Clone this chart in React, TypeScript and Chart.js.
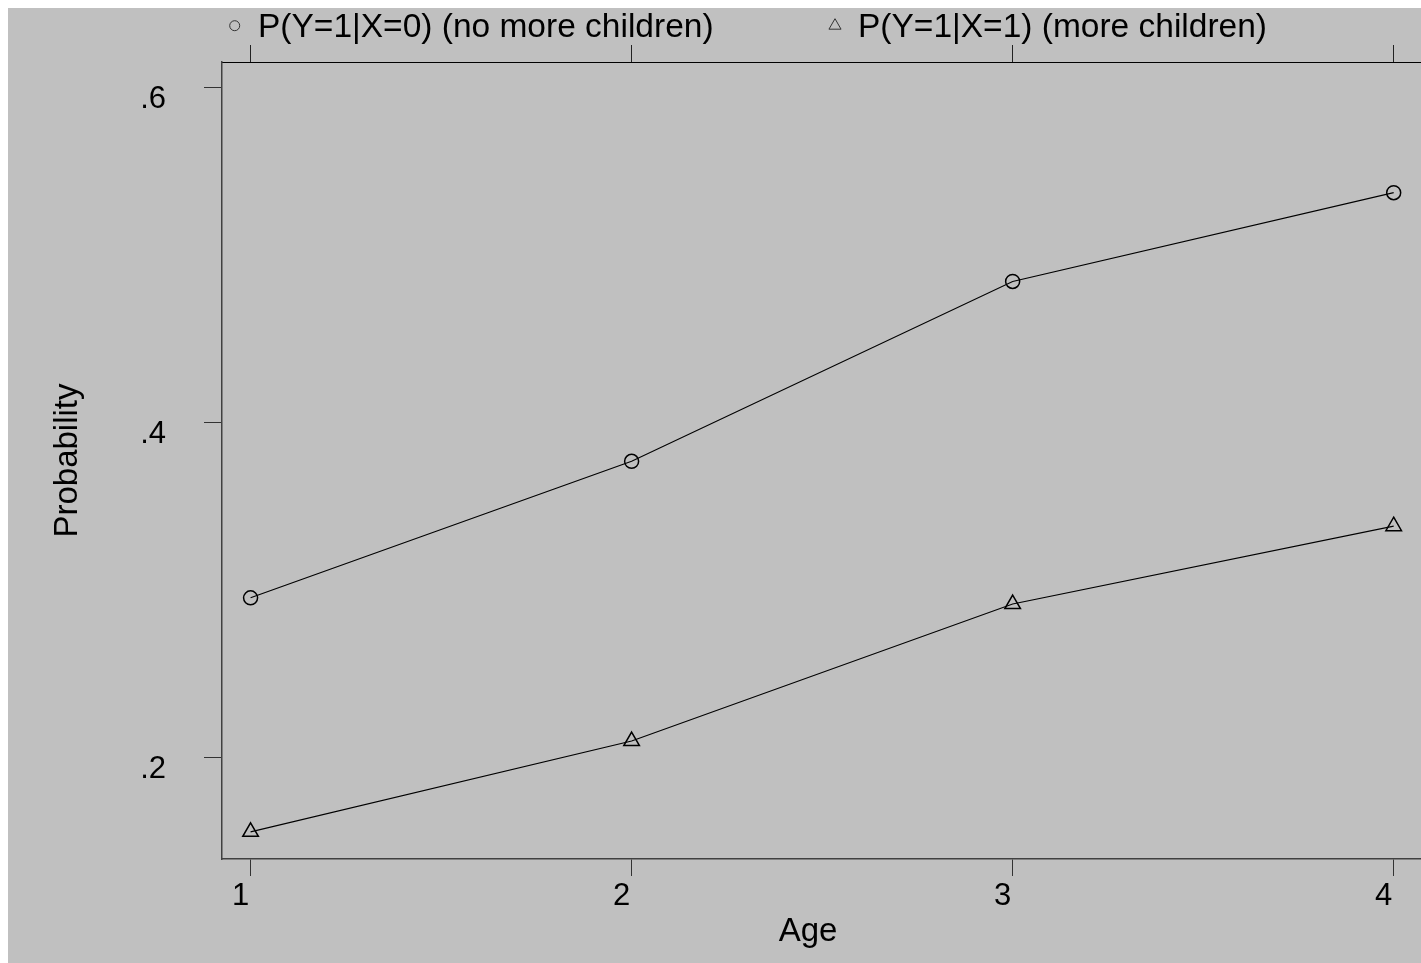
import { useEffect, useRef } from 'react';
import { Chart, registerables } from 'chart.js';

Chart.register(...registerables);

// ---- data ----
const ages = [1, 2, 3, 4];
const probNoMoreChildren = [0.2955, 0.377, 0.4844, 0.5374];
const probMoreChildren = [0.1558, 0.21, 0.2918, 0.3383];
const yTickValues = [0.2, 0.4, 0.6];
const xTickValues = [1, 2, 3, 4];
const seriesLabels = ['P(Y=1|X=0) (no more children)', 'P(Y=1|X=1) (more children)'];
const seriesMarkers = ['circle', 'triangle'];
const xTitle = 'Age';
const yTitle = 'Probability';

const FONT = '"Liberation Sans", Arial, Helvetica, sans-serif';
const X_MIN = 0.925;
const X_MAX = 4.073;
const Y_MIN = 0.1396;
const Y_MAX = 0.6154;
const W = 1424;
const H = 955;

const zeroPadding = (scale: any) => {
  scale.paddingLeft = 0;
  scale.paddingRight = 0;
  scale.paddingTop = 0;
  scale.paddingBottom = 0;
};

const overlayPlugin = {
  id: 'stataOverlay',
  afterDraw(chart: any) {
    const ctx = chart.ctx as CanvasRenderingContext2D;
    ctx.save();
    // legend overlaid on the top margin, as in the Stata original
    const legendPos = [
      { mx: 226.7, tx: 250 },
      { mx: 827, tx: 850 },
    ];
    const my = 17.7;
    ctx.font = `33.5px ${FONT}`;
    ctx.fillStyle = '#000';
    ctx.textAlign = 'left';
    ctx.textBaseline = 'alphabetic';
    chart.data.datasets.forEach((ds: any, i: number) => {
      const p = legendPos[i];
      if (!p) return;
      ctx.strokeStyle = '#333';
      ctx.lineWidth = 1;
      ctx.beginPath();
      if (ds.pointStyle === 'triangle') {
        const r = 7;
        ctx.moveTo(p.mx, my - r);
        ctx.lineTo(p.mx + r * 0.866, my + r * 0.5);
        ctx.lineTo(p.mx - r * 0.866, my + r * 0.5);
        ctx.closePath();
      } else {
        ctx.arc(p.mx, my, 5, 0, Math.PI * 2);
      }
      ctx.stroke();
      ctx.fillText(ds.label, p.tx, 28.7);
    });
    // x axis title (offset left of the plot centre, as in the original)
    ctx.font = `33px ${FONT}`;
    ctx.textAlign = 'center';
    ctx.fillText(xTitle, 800, 932.7);
    ctx.restore();
  },
};

export default function App() {
  const canvasRef = useRef<HTMLCanvasElement | null>(null);

  useEffect(() => {
    if (!canvasRef.current) return;
    document.documentElement.style.overflow = 'hidden';
    Chart.defaults.font.family = FONT;
    const seriesValues = [probNoMoreChildren, probMoreChildren];
    const chart = new Chart(canvasRef.current, {
      type: 'line',
      data: {
        datasets: seriesValues.map((vals, i) => ({
          label: seriesLabels[i],
          data: vals.map((v, j) => ({ x: ages[j], y: v })),
          borderColor: '#000',
          borderWidth: 1.1,
          pointStyle: seriesMarkers[i] as any,
          pointRadius: seriesMarkers[i] === 'triangle' ? 9 : 7,
          pointBorderColor: '#000',
          pointBorderWidth: 1.5,
          pointBackgroundColor: 'rgba(0,0,0,0)',
          tension: 0,
          fill: false,
        })),
      },
      options: {
        animation: false,
        responsive: false,
        maintainAspectRatio: false,
        devicePixelRatio: 1,
        layout: { padding: 0 },
        plugins: {
          legend: { display: false },
          tooltip: { enabled: false },
          title: { display: false },
        },
        scales: {
          x: {
            type: 'linear',
            position: 'bottom',
            min: X_MIN,
            max: X_MAX,
            afterBuildTicks: (scale: any) => {
              scale.ticks = xTickValues.map((v) => ({ value: v }));
            },
            afterFit: (scale: any) => {
              scale.height = 104;
              zeroPadding(scale);
            },
            ticks: {
              color: '#000',
              font: { size: 31 },
              padding: 2,
              labelOffset: -10,
              maxRotation: 0,
              autoSkip: false,
              callback: (v: any) => String(v),
            },
            grid: {
              drawOnChartArea: false,
              drawTicks: true,
              tickLength: 17,
              color: '#333',
              lineWidth: 1,
            },
            border: { display: true, color: '#404040', width: 1.5 },
          },
          x2: {
            type: 'linear',
            position: 'top',
            min: X_MIN,
            max: X_MAX,
            afterBuildTicks: (scale: any) => {
              scale.ticks = xTickValues.map((v) => ({ value: v }));
            },
            afterFit: (scale: any) => {
              scale.height = 54;
              zeroPadding(scale);
            },
            ticks: { display: false },
            grid: {
              drawOnChartArea: false,
              drawTicks: true,
              tickLength: 17,
              color: '#222',
              lineWidth: 1,
            },
            border: { display: true, color: '#000', width: 1 },
          },
          y: {
            type: 'linear',
            position: 'left',
            min: Y_MIN,
            max: Y_MAX,
            afterBuildTicks: (scale: any) => {
              scale.ticks = yTickValues.map((v) => ({ value: v }));
            },
            afterFit: (scale: any) => {
              scale.width = 214;
              zeroPadding(scale);
            },
            ticks: {
              color: '#000',
              font: { size: 31 },
              padding: 38,
              labelOffset: 12,
              autoSkip: false,
              callback: (v: any) => Number(v).toFixed(1).replace(/^0/, ''),
            },
            grid: {
              drawOnChartArea: false,
              drawTicks: true,
              tickLength: 18,
              color: '#333',
              lineWidth: 1,
            },
            border: { display: true, color: '#404040', width: 1.5 },
            title: {
              display: true,
              text: yTitle,
              color: '#000',
              font: { size: 33 },
              padding: { top: 39.7, bottom: 0 },
            },
          },
        },
      },
      plugins: [overlayPlugin],
    });
    return () => chart.destroy();
  }, []);

  return (
    <div style={{ position: 'fixed', left: 8, top: 8, width: W, height: H, background: '#c0c0c0' }}>
      <canvas ref={canvasRef} width={W} height={H} style={{ display: 'block', width: W, height: H }} />
    </div>
  );
}
